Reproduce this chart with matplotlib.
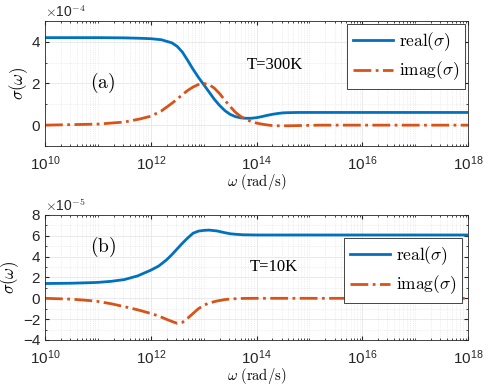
import numpy as np
import matplotlib
matplotlib.use("Agg")
import matplotlib.pyplot as plt
from matplotlib.ticker import LogLocator, NullFormatter, FixedLocator, MultipleLocator

plt.rcParams['mathtext.fontset'] = 'cm'
plt.rcParams['font.family'] = 'Liberation Sans'

# log10(omega) sample points
# panel (a), T=300K, values in units of 1e-4
logw_a = [10, 11, 11.5, 11.8, 12.0, 12.2, 12.4, 12.5, 12.6, 12.7, 12.8, 12.9, 13.0, 13.1,
          13.2, 13.3, 13.4, 13.5, 13.6, 13.7, 13.8, 13.9, 14.0, 14.1, 14.2, 14.3, 14.4,
          14.5, 14.6, 14.8, 15.2, 18]
real_a = [4.2, 4.2, 4.19, 4.17, 4.15, 4.1, 3.95, 3.78, 3.5, 3.1, 2.68, 2.3, 1.95, 1.6,
          1.25, 0.95, 0.7, 0.52, 0.41, 0.35, 0.33, 0.33, 0.36, 0.41, 0.47, 0.52, 0.56,
          0.59, 0.6, 0.61, 0.61, 0.61]
imag_a = [0.0, 0.05, 0.15, 0.3, 0.43, 0.68, 1.05, 1.25, 1.47, 1.67, 1.83, 1.95, 2.0, 1.95,
          1.78, 1.52, 1.2, 0.9, 0.62, 0.42, 0.28, 0.17, 0.1, 0.05, 0.01, -0.02, -0.03,
          -0.03, -0.03, -0.02, 0.0, 0.0]

# panel (b), T=10K, values in units of 1e-5
logw_b = [10, 10.5, 10.85, 11.0, 11.25, 11.5, 11.75, 12.0, 12.15, 12.3, 12.4, 12.5, 12.6,
          12.7, 12.8, 12.9, 13.0, 13.1, 13.25, 13.4, 13.5, 13.6, 13.75, 14.0, 18]
real_b = [1.42, 1.45, 1.5, 1.53, 1.63, 1.8, 2.15, 2.7, 3.1, 3.7, 4.2, 4.75, 5.3,
          5.8, 6.25, 6.45, 6.52, 6.55, 6.47, 6.3, 6.2, 6.15, 6.1, 6.08, 6.08]
imag_b = [0.0, -0.08, -0.22, -0.3, -0.52, -0.8, -1.1, -1.45, -1.7, -2.02, -2.22, -2.4, -2.3,
          -1.9, -1.45, -1.0, -0.68, -0.45, -0.26, -0.12, -0.07, -0.04, -0.01, 0.0, 0.0]

blue = '#0072BD'
orange = '#D95319'

fig = plt.figure(figsize=(4.91, 3.85), dpi=100)
ax_a = fig.add_axes([0.0917, 0.6208, 0.8615, 0.3247])
ax_b = fig.add_axes([0.0917, 0.1169, 0.8615, 0.3247])


def style_axis(ax, ylim, yticks, exp_label):
    ax.set_xscale('log')
    ax.set_xlim(1e10, 1e18)
    ax.set_ylim(*ylim)
    ax.xaxis.set_major_locator(FixedLocator([1e10, 1e12, 1e14, 1e16, 1e18]))
    ax.xaxis.set_minor_locator(LogLocator(base=10, subs=np.arange(1, 10), numticks=100))
    ax.xaxis.set_minor_formatter(NullFormatter())
    ax.set_yticks(yticks)
    ax.yaxis.set_minor_locator(MultipleLocator((yticks[1] - yticks[0]) / 2))
    ax.tick_params(which='both', direction='in', top=True, right=True, labelsize=11,
                   color='#262626', labelcolor='#262626')
    ax.tick_params(axis='x', which='major', pad=6)
    ax.tick_params(which='major', length=3)
    ax.tick_params(which='minor', length=1.5)
    ax.grid(True, which='major', color='#e6e6e6', lw=0.6)
    ax.grid(True, which='minor', color='#e0e0e0', lw=0.5, ls=':')
    ax.set_axisbelow(True)
    for s in ax.spines.values():
        s.set_color('#262626')
        s.set_linewidth(0.6)
    ax.set_xlabel(r'$\omega\ \mathrm{(rad/s)}$', fontsize=10.5, labelpad=-1)
    ax.set_ylabel(r'$\sigma(\omega)$', fontsize=12, labelpad=1)
    ax.text(0.0, 1.01, r'$\times$10$^{%d}$' % exp_label, transform=ax.transAxes,
            fontsize=10, color='#262626', ha='left', va='bottom')


def draw_panel(ax, logw, real, imag, bbox):
    w = 10.0 ** np.array(logw)
    ax.plot(w, real, color=blue, lw=2.0, label=r'$\mathrm{real}(\sigma)$')
    ax.plot(w, imag, color=orange, lw=2.0, ls='-.', label=r'$\mathrm{imag}(\sigma)$')
    leg = ax.legend(loc='upper right', bbox_to_anchor=bbox, fontsize=12.5, fancybox=False,
                    framealpha=1, edgecolor='#262626', handlelength=2.3, handletextpad=0.3,
                    borderpad=0.35, labelspacing=0.4, borderaxespad=0.0)
    leg.get_frame().set_linewidth(0.6)


style_axis(ax_a, (-1, 5), [0, 2, 4], -4)
draw_panel(ax_a, logw_a, real_a, imag_a, (0.993, 0.976))
ax_a.text(0.137, 0.504, r'$\mathrm{(a)}$', transform=ax_a.transAxes, fontsize=14,
          ha='center', va='center')
ax_a.text(0.544, 0.648, 'T=300K', transform=ax_a.transAxes, fontsize=12,
          family='Liberation Serif', ha='center', va='center')

style_axis(ax_b, (-4, 8), [-4, -2, 0, 2, 4, 6, 8], -5)
draw_panel(ax_b, logw_b, real_b, imag_b, (0.986, 0.816))
ax_b.text(0.137, 0.746, r'$\mathrm{(b)}$', transform=ax_b.transAxes, fontsize=14,
          ha='center', va='center')
ax_b.text(0.54, 0.584, 'T=10K', transform=ax_b.transAxes, fontsize=12,
          family='Liberation Serif', ha='center', va='center')

fig.savefig('out.png', dpi=100)
